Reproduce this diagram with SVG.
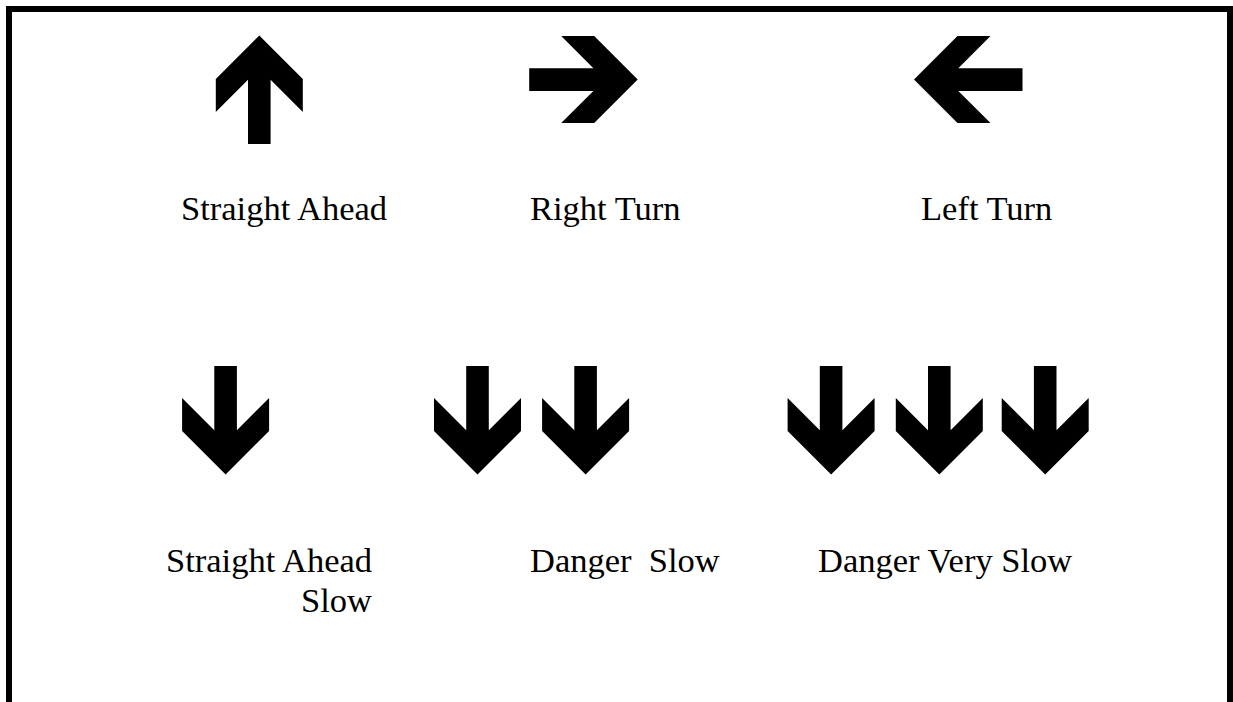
<svg xmlns="http://www.w3.org/2000/svg" xmlns:xlink="http://www.w3.org/1999/xlink" width="1233" height="702" viewBox="0 0 1233 702">
  <style>
    .frame { fill: none; stroke: #000; stroke-width: 6; }
    .arrow { fill: #000; }
    .label { font-family: "Liberation Serif", "Times New Roman", serif; font-size: 34.5px; fill: #000; white-space: pre; }
  </style>
  <defs>
    <!-- heavy arrow pointing down, tip at the origin -->
    <path id="arrow-down" class="arrow" d="M0,0 L-43.5,-43.5 L-43.5,-76.5 L-11.3,-44.3 L-11.3,-108.5 L11.3,-108.5 L11.3,-44.3 L43.5,-76.5 L43.5,-43.5 Z"/>
  </defs>

  <!-- open frame: left, top and right sides run past the bottom edge -->
  <rect id="frame" class="frame" x="9" y="9" width="1221" height="800"/>

  <g id="straight-ahead">
    <use xlink:href="#arrow-down" transform="translate(259.3,35.5) rotate(180)"/>
    <text class="label" x="181" y="220">Straight Ahead</text>
  </g>

  <g id="right-turn">
    <use xlink:href="#arrow-down" transform="translate(637.7,79.6) rotate(-90)"/>
    <text class="label" x="530" y="220">Right Turn</text>
  </g>

  <g id="left-turn">
    <use xlink:href="#arrow-down" transform="translate(914,79.6) rotate(90)"/>
    <text class="label" x="921" y="220">Left Turn</text>
  </g>

  <g id="straight-ahead-slow">
    <use xlink:href="#arrow-down" transform="translate(225.6,474.5)"/>
    <text class="label" x="166" y="572">Straight Ahead</text>
    <text class="label" x="372" y="612" text-anchor="end">Slow</text>
  </g>

  <g id="danger-slow">
    <use xlink:href="#arrow-down" transform="translate(477.5,474.5)"/>
    <use xlink:href="#arrow-down" transform="translate(585.6,474.5)"/>
    <text class="label" x="530" y="572">Danger  Slow</text>
  </g>

  <g id="danger-very-slow">
    <use xlink:href="#arrow-down" transform="translate(831.1,474.5)"/>
    <use xlink:href="#arrow-down" transform="translate(939.3,474.5)"/>
    <use xlink:href="#arrow-down" transform="translate(1045.2,474.5)"/>
    <text class="label" x="818" y="572">Danger Very Slow</text>
  </g>
</svg>
